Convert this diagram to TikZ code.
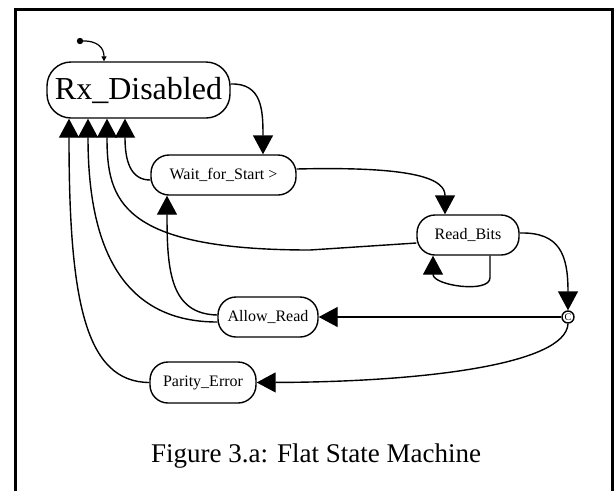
\documentclass[tikz,border=0pt]{standalone}
\usepackage{fontspec}
\setmainfont{Liberation Serif}
\usetikzlibrary{arrows.meta}
\newcommand\statefont{\fontsize{16}{16}\selectfont}
\begin{document}
\begin{tikzpicture}[x=1pt,y=-1pt,
  state/.style={draw, line width=1.4pt, rounded corners=18pt, minimum height=40pt,
                inner sep=0pt, font=\statefont},
  conn/.style={line width=1.4pt},
  tri/.style={conn, -{Triangle[width=20pt,length=19pt]}},
]
\useasboundingbox (0,0) rectangle (616,491);

% frame (open at the bottom)
\draw[line width=3pt] (15,491) -- (15,9) -- (612,9) -- (612,491);

% states
\node[state, minimum width=183pt, minimum height=56pt, rounded corners=24pt,
      font=\fontsize{32}{32}\selectfont] (rx) at (138.5,90) {Rx\_Disabled};
\node[state, minimum width=145pt] (wait)   at (223.5,175) {Wait\_for\_Start >};
\node[state, minimum width=102pt] (read)   at (468,235)   {Read\_Bits};
\node[state, minimum width=100pt] (allow)  at (268,317)   {Allow\_Read};
\node[state, minimum width=106pt, minimum height=41pt] (parity) at (203,382.5) {Parity\_Error};
\node[draw, circle, line width=1.4pt, minimum size=12pt, inner sep=0pt,
      font=\fontsize{10}{10}\selectfont] (cond) at (568,317) {C};

% initial transition
\coordinate (init) at (80,41);
\fill (init) circle (3.2pt);
\draw[line width=1.2pt, -{Triangle[width=5pt,length=5pt]}]
  (init) .. controls (98,40) and (104,48) .. ([xshift=-34.5pt]rx.north);

% forward transitions
\draw[tri] ([yshift=6pt]rx.east) .. controls (262,83) and (263,110) .. ([xshift=39.5pt]wait.north);
\draw[tri] ([yshift=6pt]wait.east) .. controls (420,166) and (445,180) .. ([xshift=-23pt]read.north);
\draw[tri] ([yshift=2pt]read.east) .. controls (560,232) and (568,255) .. (cond.north);
\draw[tri] ([xshift=22pt]read.south) -- ++(0,22) .. controls +(0,16) and +(0,30) .. ([xshift=-35pt]read.south);
\draw[tri] (cond.west) -- (allow.east);
\draw[tri] (cond.south) .. controls (566,365) and (420,382) .. (parity.east);

% transitions back to Rx_Disabled
\draw[tri] ([yshift=-5pt]wait.west) .. controls (130,180) and (125,160) .. ([xshift=-13.5pt]rx.south);
\draw[tri] ([yshift=-8pt]read.west) -- (310,250) .. controls (120,250) and (107,200) .. ([xshift=-31.5pt]rx.south);
\draw[tri] ([yshift=-5pt]allow.west) .. controls (112,322) and (88,230) .. ([xshift=-50.5pt]rx.south);
\draw[tri] (parity.west) .. controls (85,382) and (69,300) .. ([xshift=-69.5pt]rx.south);
\draw[tri] ([yshift=2pt]allow.west) .. controls (170,314) and (167,270) .. ([xshift=-56.5pt]wait.south);

% caption
\node[anchor=base, font=\fontsize{27}{27}\selectfont] (caption) at (316,462) {Figure 3.a: Flat State Machine};
\end{tikzpicture}
\end{document}
